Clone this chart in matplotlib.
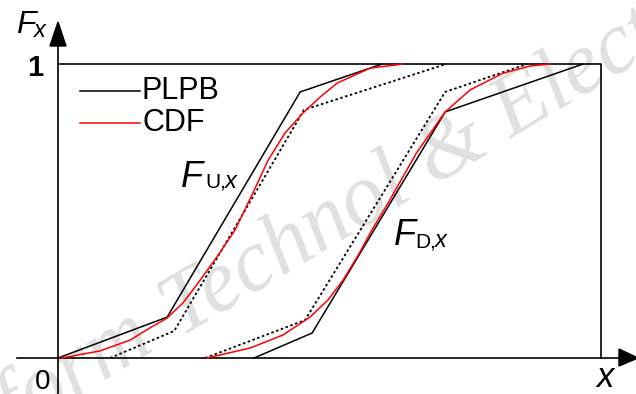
import matplotlib
matplotlib.use("Agg")
import matplotlib.pyplot as plt
from matplotlib.patches import Polygon

# piecewise-linear bounds (PLPB) and the CDFs, x in % of axis range, y = F_X
u_plpb_x = [0.0, 20.1, 44.6, 59.7]
u_plpb_y = [0.0, 0.139, 0.905, 1.0]
d_plpb_x = [36.1, 46.8, 71.3, 96.7]
d_plpb_y = [0.0, 0.085, 0.837, 1.0]

u_dot_x = [9.6, 21.4, 45.3, 71.5]
u_dot_y = [0.0, 0.092, 0.844, 1.0]
d_dot_x = [27.1, 45.5, 71.3, 86.4]
d_dot_y = [0.0, 0.129, 0.905, 1.0]

u_cdf_x = [0.7, 7.7, 13.3, 16.9, 20.1, 23.0, 26.2, 29.5, 32.6, 35.7, 38.7,
           41.8, 45.1, 48.3, 51.4, 57.5, 63.5]
u_cdf_y = [0.0, 0.024, 0.061, 0.102, 0.136, 0.187, 0.265, 0.350, 0.435, 0.554,
           0.673, 0.765, 0.833, 0.888, 0.935, 0.986, 1.0]
d_cdf_x = [27.4, 35.4, 41.4, 46.4, 49.7, 52.5, 55.3, 57.8, 61.1, 66.0, 71.3,
           75.9, 82.0, 86.9, 90.6]
d_cdf_y = [0.0, 0.034, 0.078, 0.139, 0.197, 0.265, 0.350, 0.435, 0.537, 0.697,
           0.837, 0.912, 0.969, 0.993, 1.0]

legend_labels = ["PLPB", "CDF"]


def X(px):
    return (px - 58) / 5.43


def Y(py):
    return (358 - py) / 294.0


fig = plt.figure(figsize=(6.36, 3.94), dpi=100)
ax = fig.add_axes([0, 0, 1, 1])
ax.set_xlim(X(0), X(636))
ax.set_ylim(Y(394), Y(0))
ax.axis("off")

sans = "Liberation Sans"

# watermark
wm = dict(family="Liberation Serif", style="italic", fontsize=63, color="#e0e0e0",
          rotation=31, rotation_mode="anchor", va="baseline", zorder=0)
ax.text(X(176), Y(338), "Front Inform ", ha="right", **wm)
ax.text(X(180), Y(338), "Technol & Electron Eng", ha="left", **wm)

# axes and frame
ax.plot([X(17), X(620)], [0, 0], color="black", lw=1.2, zorder=3)
ax.plot([0, 0], [Y(394), Y(44)], color="black", lw=1.2, zorder=3)
ax.plot([0, 100, 100], [1, 1, 0], color="black", lw=1.2, zorder=3)
ax.add_patch(Polygon([[X(619), Y(349)], [X(638), 0], [X(619), Y(366)]],
                     closed=True, color="black", zorder=3))
ax.add_patch(Polygon([[X(50), Y(46)], [0, Y(22)], [X(66), Y(46)]],
                     closed=True, color="black", zorder=3))

# curves
ax.plot(u_dot_x, u_dot_y, color="black", lw=1.3, ls=(0, (1.4, 1.4)), zorder=4)
ax.plot(d_dot_x, d_dot_y, color="black", lw=1.3, ls=(0, (1.4, 1.4)), zorder=4)
ax.plot(u_plpb_x, u_plpb_y, color="black", lw=1.1, zorder=5)
ax.plot(d_plpb_x, d_plpb_y, color="black", lw=1.1, zorder=5)
ax.plot(u_cdf_x, u_cdf_y, color="#ff0000", lw=1.1, zorder=6)
ax.plot(d_cdf_x, d_cdf_y, color="#ff0000", lw=1.1, zorder=6)

# legend drawn by hand
ax.plot([X(80), X(140)], [Y(91), Y(91)], color="black", lw=1.1)
ax.plot([X(80), X(140)], [Y(123), Y(123)], color="#ff0000", lw=1.1)
ax.text(X(142), Y(91), legend_labels[0], family=sans, fontsize=22, va="center", ha="left")
ax.text(X(142), Y(123), legend_labels[1], family=sans, fontsize=22, va="center", ha="left")

# tick labels and axis names
ax.text(X(43), Y(68), "1", family=sans, fontsize=21, fontweight="bold", ha="right", va="center")
ax.text(X(50), Y(389), "0", family=sans, fontsize=20, ha="right", va="baseline")
ax.text(X(605), Y(387), "x", family=sans, style="italic", fontsize=25, ha="center", va="baseline")
ax.text(X(16), Y(33), "F", family=sans, style="italic", fontsize=23, ha="left", va="baseline")
ax.text(X(34), Y(37), "x", family=sans, style="italic", fontsize=17, ha="left", va="baseline")

# curve labels
ax.text(X(181), Y(187), "F", family=sans, style="italic", fontsize=26, ha="left", va="baseline")
ax.text(X(205), Y(188), "U,", family=sans, fontsize=15, ha="left", va="baseline")
ax.text(X(225), Y(188), "x", family=sans, style="italic", fontsize=17, ha="left", va="baseline")
ax.text(X(394), Y(245), "F", family=sans, style="italic", fontsize=26, ha="left", va="baseline")
ax.text(X(415), Y(247), "D,", family=sans, fontsize=15, ha="left", va="baseline")
ax.text(X(435), Y(247), "x", family=sans, style="italic", fontsize=17, ha="left", va="baseline")

fig.savefig("out.png", dpi=100)
